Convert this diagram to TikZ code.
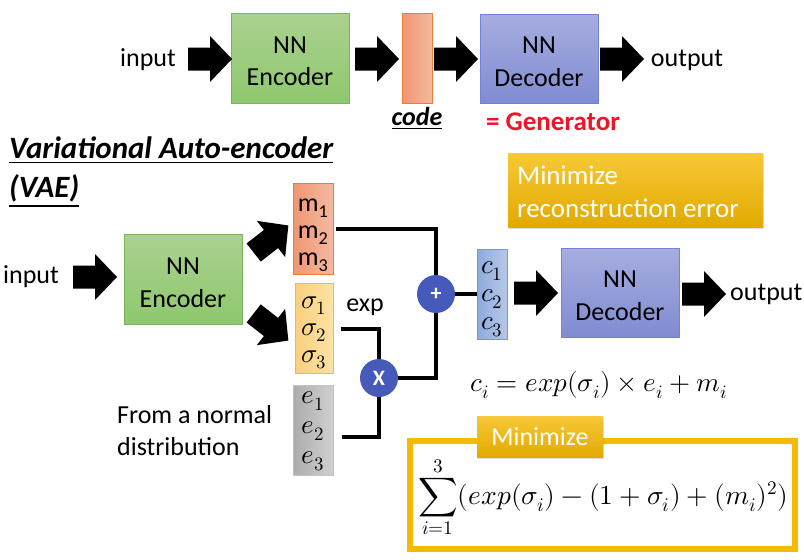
\documentclass[tikz,border=0pt]{standalone}
\usepackage{fontspec}
\usepackage{unicode-math}
\setmainfont{Carlito}
\setmathfont{Latin Modern Math}
\usetikzlibrary{shadows,calc}
\definecolor{gTop}{RGB}{170,209,143}
\definecolor{gBot}{RGB}{142,200,110}
\definecolor{gBd}{RGB}{120,180,90}
\definecolor{oL}{RGB}{240,150,115}
\definecolor{oR}{RGB}{245,185,160}
\definecolor{oBd}{RGB}{237,125,49}
\definecolor{bTop}{RGB}{166,173,223}
\definecolor{bBot}{RGB}{128,140,210}
\definecolor{bBd}{RGB}{114,130,220}
\definecolor{yL}{RGB}{250,208,125}
\definecolor{yR}{RGB}{252,226,165}
\definecolor{yBd}{RGB}{255,192,0}
\definecolor{eL}{RGB}{172,172,172}
\definecolor{eR}{RGB}{208,208,208}
\definecolor{eBd}{RGB}{195,195,195}
\definecolor{cL}{RGB}{142,170,220}
\definecolor{cR}{RGB}{182,200,232}
\definecolor{cBd}{RGB}{120,150,210}
\definecolor{mTop}{RGB}{247,200,55}
\definecolor{mBot}{RGB}{226,170,0}
\definecolor{frame}{RGB}{245,185,0}
\definecolor{circ}{RGB}{70,90,185}
\definecolor{genred}{RGB}{240,20,40}
\newcommand\fsz{\fontsize{26}{26}\selectfont}
\tikzset{
  txt/.style={font=\fsz, inner sep=0pt},
  bbox/.style={draw, line width=1, inner sep=0pt, align=center, font=\fontsize{26}{33}\selectfont},
  encbox/.style={bbox, draw=gBd, top color=gTop, bottom color=gBot, minimum width=118, minimum height=90},
  decbox/.style={bbox, draw=bBd, top color=bTop, bottom color=bBot, minimum width=118, minimum height=89},
  orangebar/.style={bbox, draw=oBd, left color=oL, right color=oR},
  yellowbar/.style={bbox, draw=yBd, left color=yL, right color=yR},
  graybar/.style={bbox, draw=eBd, left color=eL, right color=eR},
  bluebar/.style={bbox, draw=cBd, left color=cL, right color=cR},
  bartext/.style={inner sep=0pt, align=center},
  minbox/.style={inner sep=0pt, top color=mTop, bottom color=mBot, text=white, font=\fsz,
     drop shadow={opacity=0.25, shadow xshift=1pt, shadow yshift=-2pt}},
  opcirc/.style={circle, fill=circ, minimum size=38, inner sep=0pt, text=white, font=\fontsize{22}{22}\selectfont\bfseries},
  wire/.style={line width=4, line join=miter},
  barrow/.pic={\fill[black] (-22,-11.5) -- (0,-11.5) -- (0,-23) -- (22,0) -- (0,23) -- (0,11.5) -- (-22,11.5) -- cycle;}
}
\begin{document}
\begin{tikzpicture}[x=1pt,y=-1pt]
\useasboundingbox (0,0) rectangle (804,560);
% top row
\node[txt] (in1) at (148,60) {input};
\node[encbox] (enc1) at (290,58) {};
\node[bartext, font=\fontsize{26}{32}\selectfont] (enc1t) at (290,61) {NN\\Encoder};
\node[orangebar, minimum width=30, minimum height=90] (code) at (417,58) {};
\node[decbox] (dec1) at (539,59) {};
\node[bartext, font=\fontsize{26}{33}\selectfont] (dec1t) at (539,62) {NN\\Decoder};
\node[txt] (out1) at (687,60) {output};
\pic at (210,59) {barrow};
\pic at (377,59) {barrow};
\pic at (456,59) {barrow};
\pic at (622,59) {barrow};
\node[txt, font=\fsz\bfseries\itshape, anchor=base] (codel) at (417,125) {\underline{code}};
\node[txt, font=\fontsize{27}{27}\selectfont\bfseries, text=genred] (gen) at (553,122) {= Generator};
% title
\node[txt, font=\fontsize{31}{31}\selectfont\bfseries\itshape, anchor=base west] (t1) at (9,158) {\underline{Variational Auto-encoder}};
\node[txt, font=\fontsize{31}{31}\selectfont\bfseries\itshape, anchor=base west] (t2) at (9,197) {\underline{(VAE)}};
% VAE
\node[txt] (in2) at (31,277) {input};
\pic at (95,277) {barrow};
\node[encbox] (enc2) at (183,279) {};
\node[bartext, font=\fontsize{26}{33}\selectfont] (enc2t) at (183,283) {NN\\Encoder};
\pic[rotate=38] at (271,239) {barrow};
\pic[rotate=-38] at (271,327) {barrow};
\node[orangebar, minimum width=40, minimum height=91] (m) at (313,228.5) {};
\node[bartext, font=\fontsize{26}{27}\selectfont] (mt) at (313,235) {m\textsubscript{1}\\m\textsubscript{2}\\m\textsubscript{3}};
\node[yellowbar, minimum width=38, minimum height=90] (sig) at (314,328) {};
\node[bartext, font=\fontsize{27}{27}\selectfont] (sigt) at (314,333) {$\sigma_1$\\$\sigma_2$\\$\sigma_3$};
\node[graybar, minimum width=40, minimum height=90] (e) at (313,430) {};
\node[bartext, font=\fontsize{27}{30}\selectfont] (et) at (313,431) {$e_1$\\$e_2$\\$e_3$};
\node[txt] (exp) at (365,307) {exp};
\node[txt, anchor=west, align=left, font=\fontsize{26}{32}\selectfont] (norm) at (117,431) {From a normal\\distribution};
\node[opcirc] (plus) at (436,294) {+};
\node[opcirc] (times) at (379,378) {X};
\node[bluebar, minimum width=30, minimum height=90] (c) at (492,294) {};
\node[bartext, font=\fontsize{27}{28}\selectfont] (ct) at (492,299) {$c_1$\\$c_2$\\$c_3$};
\pic at (536,293) {barrow};
\node[decbox] (dec2) at (620,292.5) {};
\node[bartext, font=\fontsize{26}{33}\selectfont] (dec2t) at (620,296) {NN\\Decoder};
\pic at (704,294) {barrow};
\node[txt, anchor=west] (out2) at (730,294) {output};
\draw[wire] ([xshift=2]m.east) -| (plus.north);
\draw[wire] ([xshift=7]sig.east |- 0,329) -| (times.north);
\draw[wire] ([shift={(8,7)}]e.east) -| (times.south);
\draw[wire] (times.east) -| (plus.south);
\draw[wire] (plus.east) -- (c.west);
% minimize reconstruction
\node[minbox, minimum width=255, minimum height=74] (min1) at (635.5,190) {};
\node[txt, anchor=west, align=left, text=white, font=\fontsize{27}{33}\selectfont] (min1t) at (517,192) {Minimize\\reconstruction error};
% formula
\node[txt, font=\fontsize{27}{27}\selectfont] (ci) at (599,385) {$c_i = exp(\sigma_i)\times e_i + m_i$};
\draw[draw=frame, line width=6] (410,441) rectangle (795,549);
\node[minbox, minimum width=126, minimum height=41] (min2) at (540,436.5) {Minimize};
\node[txt, font=\fontsize{27.5}{27.5}\selectfont] (sum) at (603,497) {$\displaystyle\sum_{i=1}^{3}(exp(\sigma_i)-(1+\sigma_i)+(m_i)^2)$};
\end{tikzpicture}
\end{document}
